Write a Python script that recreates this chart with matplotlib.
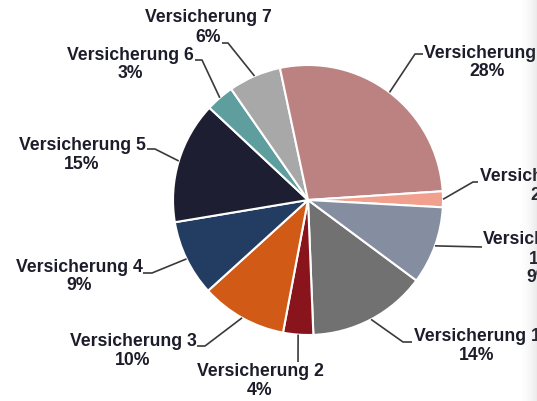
import numpy as np
import matplotlib
matplotlib.use("Agg")
import matplotlib.pyplot as plt

# slice data, clockwise from Versicherung 1
names = ["Versicherung 1", "Versicherung 2", "Versicherung 3", "Versicherung 4",
         "Versicherung 5", "Versicherung 6", "Versicherung 7", "Versicherung 8",
         "Versicherung 9", "Versicherung 10"]
shares = [14.2, 3.6, 10.3, 9.1, 14.6, 3.4, 6.3, 27.3, 1.9, 9.3]
pct_labels = ["14%", "4%", "10%", "9%", "15%", "3%", "6%", "28%", "2%", "9%"]
colors = ["#717171", "#8a141c", "#d25a17", "#233c62", "#1e1e32",
          "#5e9e9e", "#a8a8a8", "#bc8282", "#f0a08c", "#858da0"]

# label layout in pixels (from top-left): text centre x, first line y,
# elbow of connector, end of connector
label_cx = [477, 260, 133, 79, 82, 130, 208, 487, 543, 539]
label_y1 = [337, 372, 342, 267, 146, 55, 18, 53, 177, 240]
elbows = [(403, 343), (298, 363), (205, 347), (152, 274), (155, 150),
          (202, 61), (228, 44), (415, 55), (473, 183), (482, 248)]
ends = [(412, 343), (298, 363), (197, 347), (143, 274), (147, 150),
        (195, 61), (222, 44), (423, 55), (478, 183), (482, 248)]

W, H = 537, 402
cx, cy, r = 308, 201, 135

fig = plt.figure(figsize=(W / 100, H / 100), dpi=100)
ax = fig.add_axes([0, 0, 1, 1])
ax.set_xlim(0, W)
ax.set_ylim(0, H)
ax.axis("off")

wedges, _ = ax.pie(shares, colors=colors, startangle=-36.6, counterclock=False,
                   center=(cx, H - cy), radius=r,
                   wedgeprops=dict(edgecolor="white", linewidth=1.5))
ax.set_xlim(0, W)
ax.set_ylim(0, H)
ax.set_aspect("equal")

txt_color = "#1c1c2a"
for i, w in enumerate(wedges):
    mid = np.deg2rad((w.theta1 + w.theta2) / 2)
    sx = cx + r * np.cos(mid)
    sy = (H - cy) + r * np.sin(mid)
    ex, ey = elbows[i]
    tx, ty = ends[i]
    ax.plot([sx, ex, tx], [sy, H - ey, H - ty], color="#3a3a3a", lw=1.2,
            solid_capstyle="butt")
    if names[i] == "Versicherung 10":
        lines = ["Versicherung", "10", pct_labels[i]]
    else:
        lines = [names[i], pct_labels[i]]
    for j, s in enumerate(lines):
        ax.text(label_cx[i], H - (label_y1[i] + j * 19), s, ha="center", va="center",
                fontsize=12.7, fontweight="bold", family="Liberation Sans",
                color=txt_color)

# faint shadow on the right border
gax = fig.add_axes([518 / W, 0, 19 / W, 1])
grad = np.zeros((2, 64, 4))
grad[..., :3] = 0.5
grad[..., 3] = np.linspace(0, 1, 64) ** 2 * 0.16
gax.imshow(grad, aspect="auto", extent=[0, 1, 0, 1])
gax.axis("off")

fig.savefig("out.png", dpi=100)
